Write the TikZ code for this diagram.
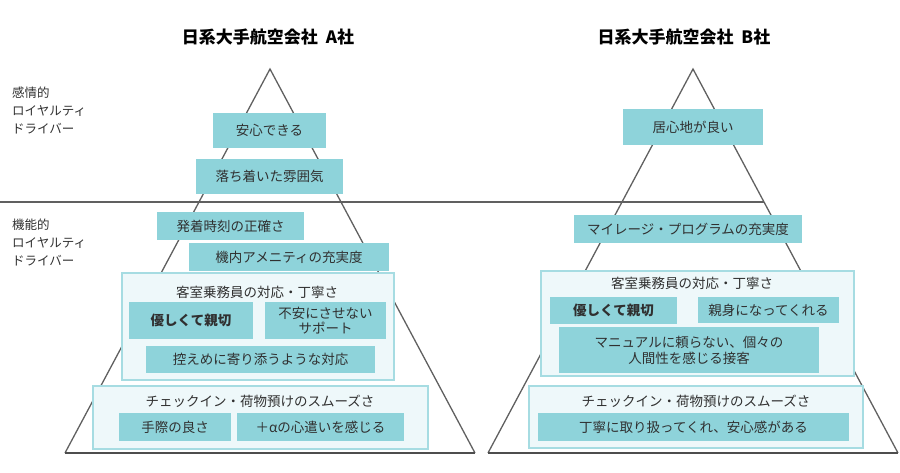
\documentclass[tikz,border=0pt]{standalone}
\usepackage{fontspec}
\setmainfont{Noto Sans CJK JP}
\definecolor{tealc}{HTML}{8ED3DA}
\definecolor{contfill}{HTML}{EEF8FA}
\definecolor{contline}{HTML}{A6DCE2}
\definecolor{txt}{HTML}{303030}
\definecolor{linec}{HTML}{606060}
\tikzset{
  tbox/.style={fill=tealc, draw=none, text=txt, inner sep=0pt, align=center,
    font=\fontsize{13.5}{16}\selectfont},
  cont/.style={fill=contfill, draw=contline, line width=1.2pt, inner sep=0pt},
  ctitle/.style={text=txt, inner sep=0pt, font=\fontsize{13.5}{16}\selectfont},
  tri/.style={draw=linec, line width=1.3pt},
  base/.style={draw=linec!80!black, line width=2pt},
  side/.style={text=txt, inner sep=0pt, align=left, anchor=west,
    font=\fontsize{12.5}{18}\selectfont},
  ttl/.style={text=black, inner sep=0pt, font=\fontsize{17}{20}\selectfont\bfseries}
}
\begin{document}
\begin{tikzpicture}[x=1pt,y=-1pt]
\useasboundingbox (0,0) rectangle (900,473);
% pyramids
\coordinate (aL) at (65,453); \coordinate (aT) at (270,69); \coordinate (aR) at (475,453);
\coordinate (bL) at (488,453); \coordinate (bT) at (693,69); \coordinate (bR) at (898,453);
\coordinate (h0) at (0,202); \coordinate (h1) at (764,202);
\draw[tri] (h0) -- (h1);
\draw[tri] (aL) -- (aT) -- (aR);
\draw[tri] (bL) -- (bT) -- (bR);
\draw[base] (aL) -- (aR);
\draw[base] (bL) -- (bR);
% titles
\node[ttl] (ta) at (268,37) {日系大手航空会社\ \ A社};
\node[ttl] (tb) at (684,37) {日系大手航空会社\ \ B社};
% side labels
\node[side] (s1) at (12,110) {感情的\\ロイヤルティ\\ドライバー};
\node[side] (s2) at (12,242) {機能的\\ロイヤルティ\\ドライバー};
% A boxes
\node[tbox, minimum width=113, minimum height=35] (a1) at (269.5,130.5) {安心できる};
\node[tbox, minimum width=147, minimum height=35] (a2) at (269.5,176.5) {落ち着いた雰囲気};
\node[tbox, minimum width=147, minimum height=28] (a3) at (230.5,226) {発着時刻の正確さ};
\node[tbox, minimum width=200, minimum height=28] (a4) at (289,257) {機内アメニティの充実度};
\node[cont, minimum width=272, minimum height=107] (ac) at (258,326.5) {};
\node[ctitle] (act) at (257,292) {客室乗務員の対応・丁寧さ};
\node[tbox, minimum width=124, minimum height=37, font=\fontsize{13.5}{16}\selectfont\bfseries] (a5) at (191,320.5) {優しくて親切};
\node[tbox, minimum width=121, minimum height=37, font=\fontsize{13.5}{15.5}\selectfont] (a6) at (325.5,320.5) {不安にさせない\\サポート};
\node[tbox, minimum width=229, minimum height=27] (a7) at (260.5,359.5) {控えめに寄り添うような対応};
\node[cont, minimum width=335, minimum height=63] (ad) at (260.5,417.5) {};
\node[ctitle] (adt) at (260,401) {チェックイン・荷物預けのスムーズさ};
\node[tbox, minimum width=112, minimum height=28] (a8) at (175,427) {手際の良さ};
\node[tbox, minimum width=167, minimum height=28] (a9) at (320.5,427) {＋αの心遣いを感じる};
% B boxes
\node[tbox, minimum width=140, minimum height=36] (b1) at (693,127) {居心地が良い};
\node[tbox, minimum width=228, minimum height=28] (b2) at (688,229) {マイレージ・プログラムの充実度};
\node[cont, minimum width=313, minimum height=105] (bc) at (697.5,323.5) {};
\node[ctitle] (bct) at (692,283) {客室乗務員の対応・丁寧さ};
\node[tbox, minimum width=127, minimum height=27, font=\fontsize{13.5}{16}\selectfont\bfseries] (b3) at (613.5,310.5) {優しくて親切};
\node[tbox, minimum width=141, minimum height=26] (b4) at (768.5,310) {親身になってくれる};
\node[tbox, minimum width=260, minimum height=46, font=\fontsize{13.5}{16}\selectfont] (b5) at (689,350) {マニュアルに頼らない、個々の\\人間性を感じる接客};
\node[cont, minimum width=334, minimum height=62] (bd) at (696,417) {};
\node[ctitle] (bdt) at (696,401) {チェックイン・荷物預けのスムーズさ};
\node[tbox, minimum width=311, minimum height=28] (b6) at (693.5,427) {丁寧に取り扱ってくれ、安心感がある};
\end{tikzpicture}
\end{document}
